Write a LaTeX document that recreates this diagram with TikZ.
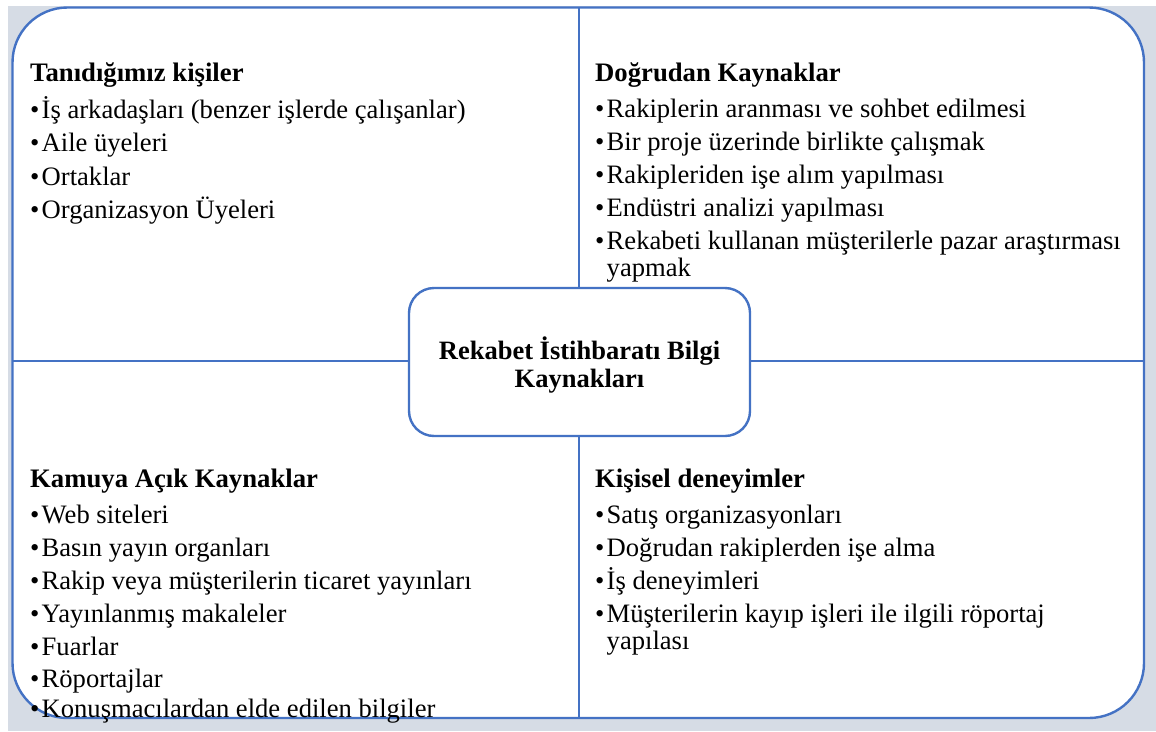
\documentclass[tikz,border=0pt]{standalone}
\usepackage{fontspec}
\setmainfont{Liberation Serif}
\begin{document}
\begin{tikzpicture}[x=1pt,y=-1pt,
  frameline/.style={draw=lineblue,line width=2.4pt},
  heading/.style={anchor=base west,inner sep=0pt,font=\fontsize{26.7}{33}\selectfont\bfseries},
  item/.style={anchor=base west,inner sep=0pt,font=\fontsize{26.6}{33}\selectfont},
  corebox/.style={frameline,fill=white,rounded corners=25pt,minimum width=341pt,minimum height=148pt,
    align=center,font=\fontsize{26.5}{28.5}\selectfont\bfseries,inner sep=0pt}]
\definecolor{lineblue}{HTML}{4472C4}
\definecolor{pagegray}{HTML}{D6DCE5}
\newcommand{\bul}{\makebox[11.5pt][l]{•}}
% page and outer frame
\fill[white] (0,0) rectangle (1156,731);
\useasboundingbox (0,0) rectangle (1156,731);
\fill[pagegray] (8,6) rectangle (1156,731);
\draw[frameline,fill=white,rounded corners=55pt] (12.5,7.5) rectangle (1144,718);
% quadrant dividers
\coordinate (vtop) at (579,7.5);
\coordinate (vbot) at (579,718);
\coordinate (hleft) at (12.5,361);
\coordinate (hright) at (1144,361);
\draw[frameline] (vtop) -- (vbot);
\draw[frameline] (hleft) -- (hright);
% central box
\node[corebox] (core) at (579.5,362) {};
\node[align=center,font=\fontsize{26.5}{28.5}\selectfont\bfseries,inner sep=0pt] (coretext) at (579.5,365) {Rekabet İstihbaratı Bilgi\\Kaynakları};
% top left
\node[heading] (tlh) at (30,81) {Tanıdığımız kişiler};
\node[item] (tl1) at (30,118) {\bul İş arkadaşları (benzer işlerde çalışanlar)};
\node[item] (tl2) at (30,151) {\bul Aile üyeleri};
\node[item] (tl3) at (30,185) {\bul Ortaklar};
\node[item] (tl4) at (30,218) {\bul Organizasyon Üyeleri};
% top right
\node[heading] (trh) at (595,81) {Doğrudan Kaynaklar};
\node[item] (tr1) at (595,117) {\bul Rakiplerin aranması ve sohbet edilmesi};
\node[item] (tr2) at (595,150) {\bul Bir proje üzerinde birlikte çalışmak};
\node[item] (tr3) at (595,183) {\bul Rakipleriden işe alım yapılması};
\node[item] (tr4) at (595,216) {\bul Endüstri analizi yapılması};
\node[item] (tr5) at (595,249) {\bul Rekabeti kullanan müşterilerle pazar araştırması};
\node[item] (tr5b) at (606.5,276) {yapmak};
% bottom left
\node[heading] (blh) at (30,487) {Kamuya Açık Kaynaklar};
\node[item] (bl1) at (30,523) {\bul Web siteleri};
\node[item] (bl2) at (30,556) {\bul Basın yayın organları};
\node[item] (bl3) at (30,589) {\bul Rakip veya müşterilerin ticaret yayınları};
\node[item] (bl4) at (30,622) {\bul Yayınlanmış makaleler};
\node[item] (bl5) at (30,655) {\bul Fuarlar};
\node[item] (bl6) at (30,687) {\bul Röportajlar};
\node[item] (bl7) at (30,717) {\bul Konuşmacılardan elde edilen bilgiler};
% bottom right
\node[heading] (brh) at (595,487) {Kişisel deneyimler};
\node[item] (br1) at (595,523) {\bul Satış organizasyonları};
\node[item] (br2) at (595,556) {\bul Doğrudan rakiplerden işe alma};
\node[item] (br3) at (595,589) {\bul İş deneyimleri};
\node[item] (br4) at (595,622) {\bul Müşterilerin kayıp işleri ile ilgili röportaj};
\node[item] (br4b) at (606.5,649) {yapılası};
\end{tikzpicture}
\end{document}
